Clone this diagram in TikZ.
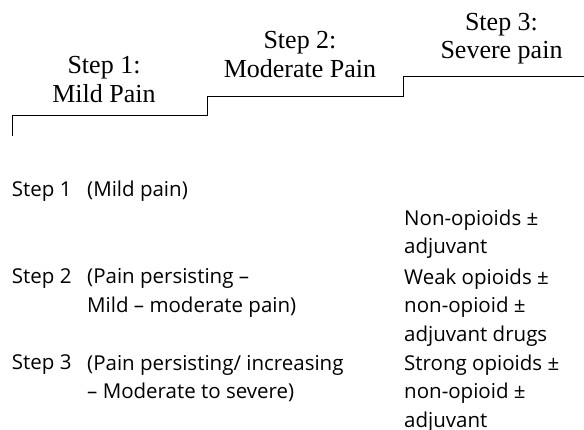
\documentclass[tikz,border=0pt]{standalone}
\usepackage{fontspec}
\setmainfont{Liberation Serif}
\newfontfamily\listfont{Open Sans}

\begin{document}
\begin{tikzpicture}[x=1pt,y=-1pt,
  steplabel/.style={align=center,inner sep=0pt,anchor=base,
    font=\fontsize{26}{28.5}\selectfont},
  listtext/.style={align=left,inner sep=0pt,anchor=base west,
    font=\listfont\fontsize{20.5}{28.6}\selectfont}]
  \useasboundingbox (0,0) rectangle (584,430);
  % the staircase
  \coordinate (stairfoot) at (12,136);
  \coordinate (stairtop) at (584,76.7);
  \draw[line width=1pt] (stairfoot) -- (12,116) -- (207.5,116) -- (207.5,96.5)
     -- (403.5,96.5) -- (403.5,76.7) -- (stairtop);
  % labels on the steps (placed at the baseline of the last line)
  \node (lblone) [steplabel] at (104,102.3) {Step 1:\\Mild Pain};
  \node (lbltwo) [steplabel] at (300,77.3) {Step 2:\\Moderate Pain};
  \node (lblthree) [steplabel] at (501.5,58.8) {Step 3:\\Severe pain};
  % left column
  \node (nameone) [listtext] at (11.7,197) {Step 1};
  \node (painone) [listtext] at (87,197) {(Mild pain)};
  \node (nametwo) [listtext] at (11.7,284) {Step 2};
  \node (paintwo) [listtext] at (87,312.6) {(Pain persisting –\\Mild – moderate pain)};
  \node (namethree) [listtext] at (11.7,370) {Step 3};
  \node (painthree) [listtext] at (87,398.6) {(Pain persisting/ increasing\\– Moderate to severe)};
  % right column
  \node (drugone) [listtext] at (404,254) {Non-opioids ±\\adjuvant};
  \node (drugtwo) [listtext] at (404,341.2) {Weak opioids ±\\non-opioid ±\\adjuvant drugs};
  \node (drugthree) [listtext] at (404,427.2) {Strong opioids ±\\non-opioid ±\\adjuvant};
\end{tikzpicture}
\end{document}
